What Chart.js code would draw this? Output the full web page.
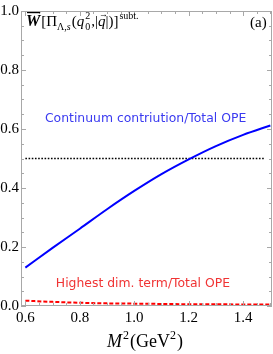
<!DOCTYPE html>
<html>
<head>
<meta charset="utf-8">
<script src="https://cdn.jsdelivr.net/npm/chart.js@4"></script>
<style>
  html, body { margin: 0; padding: 0; background: #fff; }
  #wrap { width: 273px; height: 354px; }
</style>
</head>
<body>
<div id="wrap"><canvas id="grafico"></canvas></div>
<script>
// data
const m2 = [0.6, 0.7, 0.8, 0.9, 1.0, 1.1, 1.2, 1.3, 1.4, 1.5];
const continuumRatio = [0.130, 0.197, 0.262, 0.328, 0.390, 0.447, 0.497, 0.542, 0.580, 0.612];
const highestDimRatio = [0.018, 0.014, 0.011, 0.009, 0.008, 0.007, 0.006, 0.006, 0.005, 0.005];
const halfLineX = [0.6, 1.48];
const halfLineY = [0.5, 0.5];
const xTicks = [0.6, 0.8, 1.0, 1.2, 1.4];
const yTicks = [0.0, 0.2, 0.4, 0.6, 0.8, 1.0];
const xMinorStep = 0.05;
const yMinorStep = 0.05;

function pontos(xs, ys) {
    return xs.map((x, i) => ({x: x, y: ys[i]}));
}

const serif = `"Liberation Serif", "DejaVu Serif", serif`;
const sans = `"DejaVu Sans", Verdana, sans-serif`;

// draws a run of text pieces: [text, font, dy]
function texto(ctx, x, y, partes) {
    partes.forEach(p => {
        ctx.font = p[1];
        ctx.fillText(p[0], x, y + (p[2] || 0));
        x += ctx.measureText(p[0]).width + (p[3] || 0);
    });
    return x;
}

const moldura = {
    id: 'moldura',
    afterDraw(chart) {
        const ctx = chart.ctx;
        const a = chart.chartArea;
        const sx = chart.scales.x;
        const sy = chart.scales.y;
        ctx.save();
        ctx.strokeStyle = '#a8a8a8';
        ctx.lineWidth = 1;
        ctx.strokeRect(a.left + 0.5, a.top + 0.5, a.right - a.left - 1, a.bottom - a.top - 1);

        ctx.beginPath();
        // x ticks, bottom and top
        for (let v = Math.ceil(sx.min / xMinorStep) * xMinorStep; v <= sx.max + 1e-9; v += xMinorStep) {
            const major = xTicks.some(t => Math.abs(t - v) < 1e-6);
            const len = major ? 5 : 3;
            const px = Math.round(sx.getPixelForValue(v)) + 0.5;
            ctx.moveTo(px, a.bottom); ctx.lineTo(px, a.bottom - len);
            ctx.moveTo(px, a.top); ctx.lineTo(px, a.top + len);
        }
        // y ticks, left and right
        for (let v = 0; v <= sy.max + 1e-9; v += yMinorStep) {
            const major = yTicks.some(t => Math.abs(t - v) < 1e-6);
            const len = major ? 5 : 3;
            const py = Math.round(sy.getPixelForValue(v)) + 0.5;
            ctx.moveTo(a.left, py); ctx.lineTo(a.left + len, py);
            ctx.moveTo(a.right, py); ctx.lineTo(a.right - len, py);
        }
        ctx.stroke();

        // curve labels
        ctx.textBaseline = 'alphabetic';
        ctx.font = `12.4px ${sans}`;
        ctx.fillStyle = '#3a3af0';
        ctx.fillText('Continuum contriution/Total OPE', sx.getPixelForValue(0.672), sy.getPixelForValue(0.625));
        ctx.fillStyle = '#f03434';
        ctx.fillText('Highest dim. term/Total OPE', sx.getPixelForValue(0.712), sy.getPixelForValue(0.064));

        // panel label
        ctx.fillStyle = '#000';
        ctx.font = `15px ${serif}`;
        ctx.fillText('(a)', 250, 27);

        // formula at top left
        const f = `15px ${serif}`, fi = `italic 15px ${serif}`, fs = `10px ${serif}`, fsi = `italic 10px ${serif}`;
        let x = 26, y = 26;
        ctx.font = `italic bold 16px ${serif}`;
        const wW = ctx.measureText('W').width;
        x = texto(ctx, x, y, [['W', `italic bold 16px ${serif}`]]);
        ctx.fillRect(27, 12, wW - 1, 1.2);
        x = texto(ctx, x + 1, y, [['[', f], ['\u03A0', f], ['\u039B,', fs, 4], ['s', fsi, 4, 1], ['(', f], ['q', fi]]);
        ctx.font = fs;
        ctx.fillText('2', x + 1, y - 7);
        ctx.fillText('0', x + 1, y + 4);
        x += ctx.measureText('2').width + 2;
        x = texto(ctx, x, y, [[',', f], ['|', f]]);
        ctx.font = fi;
        const wq = ctx.measureText('q').width;
        ctx.fillText('q', x, y);
        ctx.font = `9px ${serif}`;
        ctx.fillText('\u2192', x + 1, y - 9);
        x += wq;
        x = texto(ctx, x, y, [['|', f], [')', f], [']', f]]);
        texto(ctx, x + 1, y - 7, [['subt.', fs]]);

        // x axis title
        x = 107; y = 347;
        x = texto(ctx, x, y, [['M', `italic 18px ${serif}`]]);
        x = texto(ctx, x + 1, y - 8, [['2', `12px ${serif}`]]);
        x = texto(ctx, x + 1, y, [['(GeV', `18px ${serif}`]]);
        x = texto(ctx, x, y - 8, [['2', `12px ${serif}`]]);
        texto(ctx, x + 1, y, [[')', `18px ${serif}`]]);
        ctx.restore();
    }
};

const data = {
    datasets: [{
        label: 'Continuum contriution/Total OPE',
        data: pontos(m2, continuumRatio),
        borderColor: '#0000ff',
        borderWidth: 2,
        pointRadius: 0,
        cubicInterpolationMode: 'monotone'
    }, {
        label: 'Highest dim. term/Total OPE',
        data: pontos(m2, highestDimRatio),
        borderColor: '#ff0000',
        borderWidth: 2,
        borderDash: [4, 2],
        pointRadius: 0,
        cubicInterpolationMode: 'monotone'
    }, {
        label: '0.5',
        data: pontos(halfLineX, halfLineY),
        borderColor: '#000',
        borderWidth: 1.6,
        borderDash: [1.6, 1.6],
        pointRadius: 0
    }]
};

const config = {
    type: 'line',
    data: data,
    options: {
        responsive: true,
        maintainAspectRatio: false,
        animation: false,
        layout: {padding: {top: 6, right: 1, left: 0, bottom: 0}},
        plugins: {
            legend: {display: false},
            tooltip: {enabled: false}
        },
        scales: {
            x: {
                type: 'linear',
                min: 0.584,
                max: 1.506,
                grid: {display: false, drawTicks: false},
                border: {display: false},
                afterBuildTicks: s => { s.ticks = xTicks.map(v => ({value: v})); },
                afterFit: s => { s.height = 48; },
                ticks: {
                    autoSkip: false,
                    maxRotation: 0,
                    padding: 3,
                    color: '#000',
                    font: {family: serif, size: 15},
                    callback: v => v.toFixed(1)
                }
            },
            y: {
                min: 0,
                max: 1,
                grid: {display: false, drawTicks: false},
                border: {display: false},
                afterBuildTicks: s => { s.ticks = yTicks.map(v => ({value: v})); },
                afterFit: s => { s.width = 21; },
                ticks: {
                    autoSkip: false,
                    padding: 2,
                    color: '#000',
                    font: {family: serif, size: 15},
                    callback: v => v.toFixed(1)
                }
            }
        }
    },
    plugins: [moldura]
};

new Chart(document.getElementById('grafico'), config);
</script>
</body>
</html>
